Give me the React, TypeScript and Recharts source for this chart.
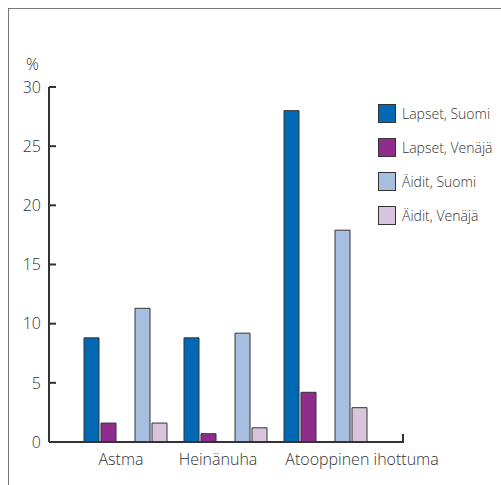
import React from "react";
import { BarChart, Bar, XAxis, YAxis } from "recharts";

const categories = ["Astma", "Heinänuha", "Atooppinen ihottuma"];
const lapsetSuomi = [8.8, 8.8, 28];
const lapsetVenaja = [1.6, 0.7, 4.2];
const aiditSuomi = [11.3, 9.2, 17.9];
const aiditVenaja = [1.6, 1.2, 2.9];
const yTicks = [0, 5, 10, 15, 20, 25, 30];

// the labels in the original are not centred under their groups
const LABEL_SHIFT = [-4, -7, 37];

const SERIES = [
  { key: "lapsetSuomi", name: "Lapset, Suomi", color: "#0068b5" },
  { key: "lapsetVenaja", name: "Lapset, Venäjä", color: "#8e2d8d" },
  { key: "aiditSuomi", name: "Äidit, Suomi", color: "#a8bee0" },
  { key: "aiditVenaja", name: "Äidit, Venäjä", color: "#d9c4de" },
];

const data = categories.map((name, i) => ({
  name,
  lapsetSuomi: lapsetSuomi[i],
  lapsetVenaja: lapsetVenaja[i],
  gap: null,
  aiditSuomi: aiditSuomi[i],
  aiditVenaja: aiditVenaja[i],
}));

const FONT = "'Open Sans', 'Noto Sans', sans-serif";
const AXIS = "#333";
const TEXT = "#333";
const WEIGHT = 300;

function YTick(props: any) {
  const { x, y, payload } = props;
  return (
    <g>
      <line x1={x + 8} x2={x + 15} y1={y} y2={y} stroke={AXIS} strokeWidth={2} />
      <text
        x={x}
        y={y}
        dy="0.36em"
        textAnchor="end"
        fill={TEXT}
        fontSize={16}
        fontFamily={FONT}
        fontWeight={WEIGHT}
      >
        {payload.value}
      </text>
    </g>
  );
}

function XTick(props: any) {
  const { x, y, payload, index } = props;
  return (
    <text
      x={x + (LABEL_SHIFT[index] ?? 0)}
      y={y}
      dy="0.71em"
      textAnchor="middle"
      fill={TEXT}
      fontSize={16}
      fontFamily={FONT}
      fontWeight={WEIGHT}
    >
      {payload.value}
    </text>
  );
}

function Legend() {
  return (
    <div style={{ position: "absolute", left: 378, top: 104, fontFamily: FONT }}>
      {SERIES.map((s) => (
        <div
          key={s.key}
          style={{ display: "flex", alignItems: "center", height: 19, marginBottom: 15 }}
        >
          <div
            style={{
              width: 18,
              height: 19,
              background: s.color,
              border: "1px solid #333",
              boxSizing: "border-box",
            }}
          />
          <span style={{ marginLeft: 6, fontSize: 14, color: TEXT, fontWeight: WEIGHT }}>
            {s.name}
          </span>
        </div>
      ))}
    </div>
  );
}

export default function App() {
  return (
    <div
      style={{
        position: "absolute",
        left: 0,
        top: 0,
        width: 501,
        height: 485,
        background: "#fff",
        overflow: "hidden",
      }}
    >
      <div
        style={{
          position: "absolute",
          left: 8,
          top: 8,
          right: 0,
          bottom: -2,
          borderLeft: "1px solid #777",
          borderTop: "1px solid #777",
        }}
      />
      <div
        style={{
          position: "absolute",
          left: 26,
          top: 53,
          fontSize: 16,
          color: TEXT,
          fontFamily: FONT,
          fontWeight: WEIGHT,
        }}
      >
        %
      </div>
      <div style={{ position: "absolute", left: 0, top: 0 }}>
        <BarChart
          width={501}
          height={485}
          data={data}
          margin={{ top: 87, right: 98, left: 0, bottom: 0 }}
          barCategoryGap={9}
          barGap={2}
        >
          <YAxis
            width={49}
            domain={[0, 30]}
            ticks={yTicks}
            interval={0}
            tickLine={false}
            tickSize={0}
            tickMargin={8}
            axisLine={{ stroke: AXIS, strokeWidth: 2 }}
            tick={<YTick />}
          />
          <XAxis
            dataKey="name"
            height={43}
            interval={0}
            padding={{ left: 26, right: 28 }}
            tickLine={false}
            tickSize={0}
            tickMargin={12}
            axisLine={{ stroke: AXIS, strokeWidth: 2 }}
            tick={<XTick />}
          />
          <Bar dataKey="lapsetSuomi" fill="#0068b5" stroke="#333" isAnimationActive={false} />
          <Bar dataKey="lapsetVenaja" fill="#8e2d8d" stroke="#333" isAnimationActive={false} />
          <Bar dataKey="gap" fill="none" isAnimationActive={false} />
          <Bar dataKey="aiditSuomi" fill="#a8bee0" stroke="#333" isAnimationActive={false} />
          <Bar dataKey="aiditVenaja" fill="#d9c4de" stroke="#333" isAnimationActive={false} />
        </BarChart>
      </div>
      <div
        style={{
          position: "absolute",
          left: 402,
          top: 434,
          width: 2,
          height: 9,
          background: AXIS,
        }}
      />
      <Legend />
    </div>
  );
}
